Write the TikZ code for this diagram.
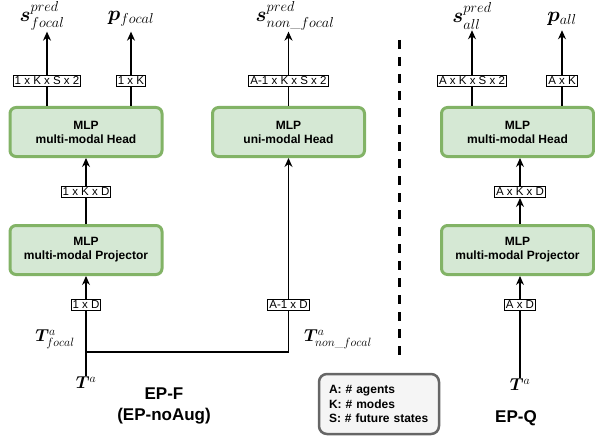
\documentclass[tikz,border=0pt]{standalone}
\usepackage{fontspec}
\setsansfont{Liberation Sans}
\usepackage{amsmath}
\usepackage{bm}
\usetikzlibrary{positioning}
\usetikzlibrary{arrows.meta}
\definecolor{mlpfill}{HTML}{D5E8D4}
\definecolor{mlpline}{HTML}{82B366}
\definecolor{legfill}{HTML}{F5F5F5}
\definecolor{legline}{HTML}{666666}
\tikzstyle{mlp}=[draw=mlpline, fill=mlpfill, line width=3pt, rounded corners=6pt, minimum width=152pt, minimum height=49pt, align=center, font=\sffamily\bfseries\fontsize{12}{14}\selectfont]
\tikzstyle{dimbox}=[draw, fill=white, line width=1pt, inner sep=1.5pt, font=\sffamily\fontsize{11.5}{12}\selectfont]
\tikzstyle{link}=[-{Stealth[length=9pt,width=8pt]}, line width=1.2pt]
\tikzstyle{wire}=[line width=1.2pt]
\tikzstyle{varlabel}=[font=\fontsize{20}{22}\selectfont, inner sep=1pt]
\tikzstyle{inlabel}=[font=\fontsize{17}{19}\selectfont, inner sep=1pt]
\tikzstyle{title}=[font=\sffamily\bfseries\fontsize{17}{21}\selectfont, align=center]

\begin{document}
\begin{tikzpicture}[x=1pt, y=-1pt]
    \useasboundingbox (0,0) rectangle (595,436);

    % EP-F
    \node[mlp] (headF) at (86,132)    {MLP\\multi-modal Head};
    \node[mlp] (projF) at (86,250)    {MLP\\multi-modal Projector};
    \node[mlp] (headU) at (288.5,132) {MLP\\uni-modal Head};

    \node[dimbox] (dimSF)  at (47,81)   {1 x K x S x 2};
    \node[dimbox] (dimPF)  at (131,81)  {1 x K};
    \node[dimbox] (dimSN)  at (288.5,81) {A-1 x K x S x 2};
    \node[dimbox] (dimKDF) at (86,192)  {1 x K x D};
    \node[dimbox] (dimDF)  at (86,305)  {1 x D};
    \node[dimbox] (dimDN)  at (288.5,305) {A-1 x D};

    \node[varlabel] (sF) at (42,16)   {$\bm{s}^{pred}_{focal}$};
    \node[varlabel] (pF) at (131,19)  {$\bm{p}_{focal}$};
    \node[varlabel] (sN) at (295,16) {$\bm{s}^{pred}_{non\_focal}$};
    \node[inlabel] (tF) at (55,339)  {$\bm{T}^{a}_{focal}$};
    \node[inlabel] (tN) at (338,339) {$\bm{T}^{a}_{non\_focal}$};
    \node[inlabel] (tA) at (86,383)  {$\bm{T}^{a}$};
    \coordinate (split) at (86,352);

    \node[title] (epF) at (164,406) {EP-F\\(EP-noAug)};

    % EP-Q
    \node[mlp] (headQ) at (517.5,132) {MLP\\multi-modal Head};
    \node[mlp] (projQ) at (517.5,250) {MLP\\multi-modal Projector};

    \node[dimbox] (dimSQ)  at (472,81)  {A x K x S x 2};
    \node[dimbox] (dimPQ)  at (562,81)  {A x K};
    \node[dimbox] (dimKDQ) at (520,192) {A x K x D};
    \node[dimbox] (dimDQ)  at (520,305) {A x D};

    \node[varlabel] (sQ) at (472,16) {$\bm{s}^{pred}_{all}$};
    \node[varlabel] (pQ) at (562,19) {$\bm{p}_{all}$};
    \node[inlabel] (tQ) at (520,385) {$\bm{T}^{a}$};

    \node[title] (epQ) at (516,418) {EP-Q};

    \node[draw=legline, fill=legfill, line width=2.5pt, rounded corners=8pt, minimum width=120pt, minimum height=60pt, text width=100pt, align=left, font=\sffamily\bfseries\fontsize{12}{14.5}\selectfont] (legend) at (379,404) {A: \# agents\\K: \# modes\\S: \# future states};

    \coordinate (dashtop) at (399,40);
    \coordinate (dashbot) at (399,358);
    \draw[line width=3pt, dash pattern=on 9pt off 8pt] (dashtop) -- (dashbot);

    % connectors EP-F
    \draw[wire] (headF.north -| dimSF) -- (dimSF);
    \draw[link] (dimSF) -- (dimSF |- sF.south);
    \draw[wire] (headF.north -| dimPF) -- (dimPF);
    \draw[link] (dimPF) -- (dimPF |- sF.south);
    \draw[wire] (headU.north -| dimSN) -- (dimSN);
    \draw[link] (dimSN) -- (dimSN |- sN.south);
    \draw[wire] (projF) -- (dimKDF);
    \draw[link] (dimKDF) -- (headF);
    \draw[wire] (tA.north) -- (split) -- (dimDF);
    \draw[link] (dimDF) -- (projF);
    \draw[wire] (split) -| (dimDN);
    \draw[link] (dimDN) -- (headU);

    % connectors EP-Q
    \draw[wire] (headQ.north -| dimSQ) -- (dimSQ);
    \draw[link] (dimSQ) -- (dimSQ |- sQ.south);
    \draw[wire] (headQ.north -| dimPQ) -- (dimPQ);
    \draw[link] (dimPQ) -- (dimPQ |- sQ.south);
    \draw[link] (projQ.north -| dimKDQ) -- (dimKDQ);
    \draw[link] (dimKDQ) -- (headQ.south -| dimKDQ);
    \draw[wire] (tQ.north) -- (dimDQ);
    \draw[link] (dimDQ) -- (projQ.south -| dimDQ);
\end{tikzpicture}
\end{document}
